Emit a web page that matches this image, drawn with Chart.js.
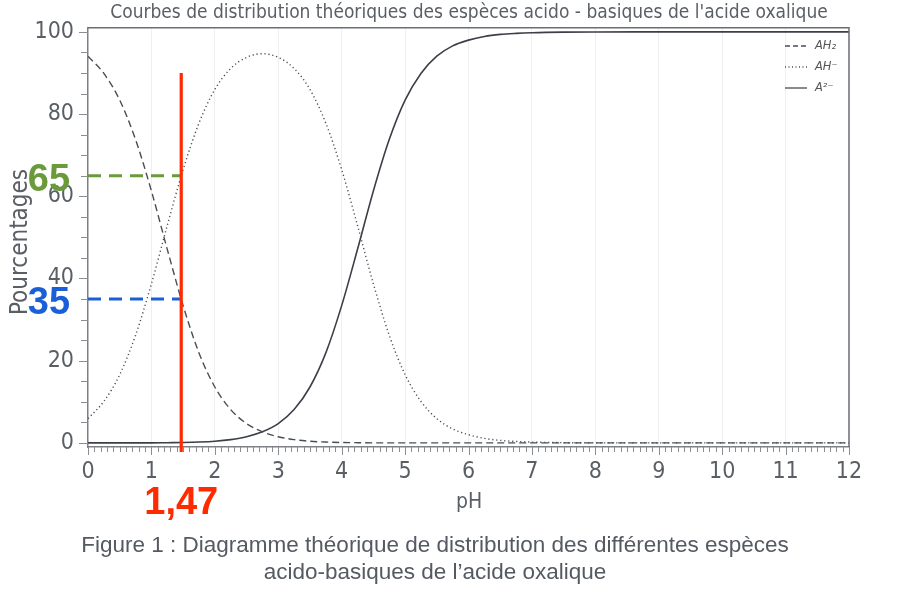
<!DOCTYPE html>
<html>
<head>
<meta charset="utf-8">
<script src="https://cdn.jsdelivr.net/npm/chart.js@4.4.1/dist/chart.umd.min.js"></script>
<style>
  html, body { margin: 0; padding: 0; background: #fff; }
  #wrap { width: 898px; height: 595px; }
</style>
</head>
<body>
<div id="wrap"><canvas id="chart" width="898" height="595"></canvas></div>
<script>
// pH values and percentages
const phValues = [0, 0.25, 0.5, 0.75, 1, 1.25, 1.5, 1.75, 2, 2.25, 2.5, 2.75, 3, 3.25, 3.5, 3.75, 4, 4.25, 4.5, 4.75, 5, 5.25, 5.5, 5.75, 6, 6.25, 6.5, 6.75, 7, 7.5, 8, 9, 10, 11, 12];
const ah2Values = [94.1, 89.9, 83.4, 73.8, 61.3, 47.1, 33.4, 21.9, 13.6, 8.1, 4.7, 2.7, 1.5, 0.8, 0.4, 0.2, 0.1, 0.05, 0, 0, 0, 0, 0, 0, 0, 0, 0, 0, 0, 0, 0, 0, 0, 0, 0];
const ahValues = [5.9, 10.1, 16.6, 26.2, 38.7, 52.9, 66.5, 77.8, 86.0, 91.1, 93.8, 94.7, 93.8, 91.1, 86.0, 77.8, 66.5, 52.9, 38.7, 26.2, 16.6, 10.1, 5.9, 3.4, 2.0, 1.1, 0.6, 0.35, 0.2, 0.06, 0.02, 0, 0, 0, 0];
const a2Values = [0, 0, 0, 0, 0, 0.05, 0.1, 0.2, 0.4, 0.8, 1.5, 2.7, 4.7, 8.1, 13.6, 21.9, 33.4, 47.1, 61.3, 73.8, 83.4, 89.9, 94.1, 96.6, 98.0, 98.9, 99.4, 99.65, 99.8, 99.94, 99.98, 100, 100, 100, 100];

const seriesLabels = ['AH₂', 'AH⁻', 'A²⁻'];
const xTicks = [0, 1, 2, 3, 4, 5, 6, 7, 8, 9, 10, 11, 12];
const yTicks = [0, 20, 40, 60, 80, 100];

// annotation values
const phMark = 1.47;
const markTop = 90;
const markBottom = -2.2;
const levelHigh = 65;
const levelLow = 35;

const titleText = "Courbes de distribution théoriques des espèces acido - basiques de l'acide oxalique";
const captionLines = ['Figure 1 : Diagramme théorique de distribution des différentes espèces', 'acido-basiques de l’acide oxalique'];

const curveColor = '#4a4d55';
const textGray = '#5a5f66';
const condensed = '"DejaVu Sans Condensed", "DejaVu Sans", sans-serif';

const toPoints = vals => phValues.map((x, i) => ({ x: x, y: vals[i] }));

// extra drawing: borders, minor ticks, legend, texts
const decorations = {
    id: 'decorations',
    afterDatasetsDraw(chart) {
        const ctx = chart.ctx;
        const xs = chart.scales.x;
        const ys = chart.scales.y;
        const area = chart.chartArea;
        ctx.save();

        // top and right frame
        ctx.strokeStyle = '#6b6e74';
        ctx.lineWidth = 1.5;
        ctx.beginPath();
        ctx.moveTo(area.left, area.top);
        ctx.lineTo(area.right, area.top);
        ctx.lineTo(area.right, area.bottom);
        ctx.stroke();

        // x tick marks (minor every 0.1)
        ctx.strokeStyle = '#8a8d92';
        ctx.lineWidth = 1;
        for (let i = 0; i <= 120; i++) {
            const px = Math.round(xs.getPixelForValue(i / 10)) + 0.5;
            const len = i % 10 === 0 ? 8 : 5;
            ctx.beginPath();
            ctx.moveTo(px, area.bottom);
            ctx.lineTo(px, area.bottom + len);
            ctx.stroke();
        }
        // y tick marks (minor every 5)
        for (let v = 0; v <= 100; v += 5) {
            const py = Math.round(ys.getPixelForValue(v)) + 0.5;
            const len = v % 20 === 0 ? 9 : 7;
            ctx.beginPath();
            ctx.moveTo(area.left - len, py);
            ctx.lineTo(area.left, py);
            ctx.stroke();
        }

        // legend inside plot, top right
        const legendStyles = [[5, 3], [1, 2.5], []];
        ctx.font = 'italic 11.5px "DejaVu Sans", sans-serif';
        ctx.textBaseline = 'middle';
        ctx.textAlign = 'left';
        seriesLabels.forEach((lab, i) => {
            const ly = 46 + i * 21;
            ctx.strokeStyle = curveColor;
            ctx.lineWidth = 1.3;
            ctx.setLineDash(legendStyles[i]);
            ctx.beginPath();
            ctx.moveTo(785, ly);
            ctx.lineTo(807, ly);
            ctx.stroke();
            ctx.setLineDash([]);
            ctx.fillStyle = '#555';
            ctx.fillText(lab, 815, ly);
        });

        // title
        ctx.fillStyle = textGray;
        ctx.textAlign = 'center';
        ctx.font = '19px ' + condensed;
        ctx.fillText(titleText, 469, 13);

        // axis titles
        ctx.font = '21px ' + condensed;
        ctx.fillText('pH', 469, 503);
        ctx.save();
        ctx.translate(21, 242);
        ctx.rotate(-Math.PI / 2);
        ctx.font = '24px ' + condensed;
        ctx.fillText('Pourcentages', 0, 0);
        ctx.restore();

        // caption
        ctx.font = '22.5px "Liberation Sans", Arial, sans-serif';
        ctx.fillStyle = '#555a62';
        ctx.fillText(captionLines[0], 435, 546);
        ctx.fillText(captionLines[1], 435, 573);

        // value labels
        ctx.font = 'bold 38px "Liberation Sans", Arial, sans-serif';
        ctx.fillStyle = '#6a9a3a';
        ctx.fillText(String(levelHigh), 49, ys.getPixelForValue(levelHigh) + 5);
        ctx.fillStyle = '#1b5fd8';
        ctx.fillText(String(levelLow), 49, ys.getPixelForValue(levelLow) + 4);
        ctx.fillStyle = '#ff2a00';
        ctx.fillText(String(phMark).replace('.', ','), xs.getPixelForValue(phMark), 504);

        ctx.restore();
    }
};

new Chart(document.getElementById('chart'), {
    type: 'line',
    data: {
        datasets: [
            { label: seriesLabels[0], data: toPoints(ah2Values), borderColor: curveColor, borderWidth: 1.4, borderDash: [7, 4], order: 2 },
            { label: seriesLabels[1], data: toPoints(ahValues), borderColor: curveColor, borderWidth: 1.4, borderDash: [1.2, 2.8], order: 2 },
            { label: seriesLabels[2], data: toPoints(a2Values), borderColor: '#3c3f46', borderWidth: 1.6, order: 2 },
            { label: 'high', data: [{ x: 0, y: levelHigh }, { x: phMark, y: levelHigh }], borderColor: '#6a9a3a', borderWidth: 3, borderDash: [13, 8], order: 1, cubicInterpolationMode: 'default', tension: 0 },
            { label: 'low', data: [{ x: 0, y: levelLow }, { x: phMark, y: levelLow }], borderColor: '#1b5fd8', borderWidth: 3, borderDash: [13, 8], order: 1, cubicInterpolationMode: 'default', tension: 0 },
            { label: 'mark', data: [{ x: phMark, y: markBottom }, { x: phMark, y: markTop }], borderColor: '#ff2a00', borderWidth: 3.2, order: 0, clip: false, cubicInterpolationMode: 'default', tension: 0 }
        ]
    },
    options: {
        responsive: false,
        animation: false,
        parsing: true,
        layout: { padding: { top: 27, right: 49, left: 0, bottom: 0 } },
        elements: {
            point: { radius: 0 },
            line: { cubicInterpolationMode: 'monotone', fill: false }
        },
        plugins: {
            legend: { display: false },
            title: { display: false },
            tooltip: { enabled: false }
        },
        scales: {
            x: {
                type: 'linear',
                min: 0,
                max: 12,
                afterFit: s => { s.height = 148; },
                afterBuildTicks: s => { s.ticks = xTicks.map(v => ({ value: v })); },
                ticks: { font: { size: 23, family: condensed }, color: textGray, padding: 11, maxRotation: 0 },
                grid: { drawTicks: false, color: c => (c.tick && c.tick.value > 0 && c.tick.value < 12) ? '#efefef' : 'transparent' },
                border: { display: true, color: '#7d8086', width: 1.5 }
            },
            y: {
                type: 'linear',
                min: -1,
                max: 101,
                afterFit: s => { s.width = 88; },
                afterBuildTicks: s => { s.ticks = yTicks.map(v => ({ value: v })); },
                ticks: { font: { size: 23, family: condensed }, color: textGray, padding: 14 },
                grid: { display: false, drawTicks: false },
                border: { display: true, color: '#7d8086', width: 1.5 }
            }
        }
    },
    plugins: [decorations]
});
</script>
</body>
</html>
